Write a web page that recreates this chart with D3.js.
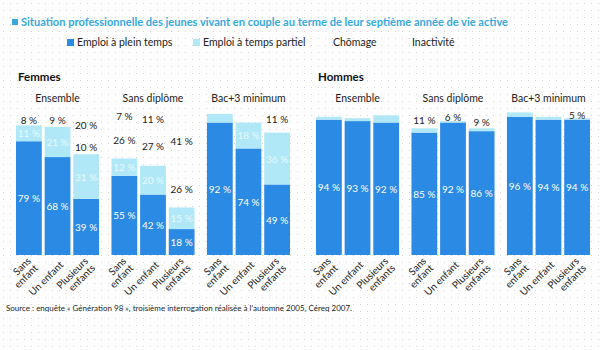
<!DOCTYPE html>
<html lang="fr">
<head>
<meta charset="UTF-8">
<title>Situation professionnelle des jeunes vivant en couple</title>
<script src="https://cdn.jsdelivr.net/npm/d3@7/dist/d3.min.js"></script>
<style>
  body { margin: 0; background: #fff; }
  svg { display: block; font-family: Lato, "Open Sans", sans-serif; }
</style>
</head>
<body>
<script>
// séries (en %), ordre : Ensemble x3, Sans diplôme x3, Bac+3 minimum x3
const femmesPlein      = [79, 68, 39, 55, 42, 18, 92, 74, 49];
const femmesPartiel    = [11, 21, 31, 12, 20, 15,  6, 18, 36];
const femmesChomage    = [ 8,  9, 10, 26, 27, 26,  1,  4,  4];
const femmesInactivite = [ 2,  2, 20,  7, 11, 41,  1,  4, 11];

const hommesPlein      = [94, 93, 92, 85, 92, 86, 96, 94, 94];
const hommesPartiel    = [ 2,  2,  5,  3,  1,  2,  3,  2,  1];
const hommesChomage    = [ 3,  4,  2, 11,  6,  9,  1,  3,  5];
const hommesInactivite = [ 1,  1,  1,  1,  1,  3,  0,  1,  0];

const sexes = ["Femmes", "Hommes"];
const groupes = ["Ensemble", "Sans diplôme", "Bac+3 minimum"];
const situations = [["Sans", "enfant"], ["Un enfant"], ["Plusieurs", "enfants"]];
const cles = ["Emploi à plein temps", "Emploi à temps partiel", "Chômage", "Inactivité"];

const width = 604, height = 350;
const fonce = "#2a8ae4", clair = "#b0e8f7", titreCouleur = "#36a9e1";

const svg = d3.select("body").append("svg")
    .attr("width", width)
    .attr("height", height);

// fond pointillé
const defs = svg.append("defs");
defs.append("pattern")
    .attr("id", "points")
    .attr("width", 7).attr("height", 7)
    .attr("patternUnits", "userSpaceOnUse")
  .append("rect")
    .attr("x", 3).attr("y", 3).attr("width", 1).attr("height", 1)
    .attr("fill", "#d4d4d4");
svg.append("rect").attr("width", width).attr("height", height).attr("fill", "url(#points)");

// titre
svg.append("rect").attr("x", 12).attr("y", 19).attr("width", 6).attr("height", 6).attr("fill", titreCouleur);
svg.append("text")
    .attr("x", 21).attr("y", 26)
    .attr("textLength", 487).attr("lengthAdjust", "spacingAndGlyphs")
    .style("font-size", "11px").style("font-weight", "bold")
    .attr("fill", titreCouleur)
    .text("Situation professionnelle des jeunes vivant en couple au terme de leur septième année de vie active");

// légende
const couleurs = d3.scaleOrdinal().domain(cles).range([fonce, clair, "none", "none"]);
const legX = [67, 193, 333, 412];
const leg = svg.append("g").selectAll("g").data(cles).join("g")
    .attr("transform", (d, i) => `translate(${legX[i]},40)`);
leg.filter(d => couleurs(d) !== "none").append("rect")
    .attr("y", -1).attr("width", 7).attr("height", 7).attr("fill", couleurs);
leg.append("text")
    .attr("x", (d, i) => i < 2 ? 10 : 0).attr("y", 6)
    .style("font-size", "10.5px").attr("fill", "#222")
    .text(d => d);

// échelles
const y = d3.scaleLinear().domain([0, 100]).range([255, 111]);
const xPanneau = d3.scaleBand().domain(sexes).range([0, 600]);
const xGroupe = d3.scaleBand().domain(groupes).range([16, 290]).paddingInner(0.13);
const xBarre = d3.scaleBand().domain(d3.range(3)).range([0, xGroupe.bandwidth()]).paddingInner(0.1);

const series = {
  Femmes: [femmesPlein, femmesPartiel, femmesChomage, femmesInactivite],
  Hommes: [hommesPlein, hommesPartiel, hommesChomage, hommesInactivite]
};

sexes.forEach(sexe => {
  const lignes = d3.range(9).map(i => {
    const r = { groupe: groupes[Math.floor(i / 3)], idx: i % 3 };
    cles.forEach((k, j) => r[k] = series[sexe][j][i]);
    return r;
  });
  const pile = d3.stack().keys(cles)(lignes);

  const p = svg.append("g").attr("transform", `translate(${xPanneau(sexe)},0)`);

  p.append("text")
      .attr("x", 18).attr("y", 81)
      .style("font-size", "11.5px").style("font-weight", "bold").attr("fill", "#111")
      .text(sexe);

  p.selectAll(".groupe").data(groupes).join("text")
      .attr("x", d => xGroupe(d) + xGroupe.bandwidth() / 2).attr("y", 102)
      .attr("text-anchor", "middle")
      .style("font-size", "10.5px").attr("fill", "#222")
      .text(d => d);

  const xPos = r => xGroupe(r.groupe) + xBarre(r.idx);

  const couche = p.selectAll(".couche").data(pile).join("g");
  couche.selectAll("rect").data(d => d).join("rect")
      .attr("x", d => xPos(d.data))
      .attr("y", d => y(d[1]))
      .attr("width", xBarre.bandwidth())
      .attr("height", d => y(d[0]) - y(d[1]))
      .attr("fill", function () { return couleurs(d3.select(this.parentNode).datum().key); });

  couche.each(function (s, j) {
    const seuil = j === 0 ? 1 : (j === 1 ? 10 : 5);
    d3.select(this).selectAll("text")
        .data(s.filter(d => d[1] - d[0] >= seuil))
        .join("text")
        .attr("x", d => xPos(d.data) + xBarre.bandwidth() / 2)
        .attr("y", d => (y(d[0]) + y(d[1])) / 2 + 4)
        .attr("text-anchor", "middle")
        .style("font-size", "10px")
        .attr("fill", j === 0 ? "#fff" : (j === 1 ? "#e8f9fd" : "#222"))
        .text(d => (d[1] - d[0]) + " %");
  });

  // étiquettes inclinées
  const lab = p.selectAll(".lab").data(d3.range(9)).join("text")
      .attr("transform", i => `translate(${xGroupe(groupes[Math.floor(i / 3)]) + xBarre(i % 3) + xBarre.bandwidth() / 2 + 4},263) rotate(-45)`)
      .attr("text-anchor", "end")
      .style("font-size", "10px").attr("fill", "#222");
  lab.selectAll("tspan").data(i => situations[i % 3].map((t, k, a) => ({ t, k, n: a.length })))
      .join("tspan")
      .attr("x", 0)
      .attr("dy", d => d.n === 1 ? "0.35em" : (d.k === 0 ? "-0.2em" : "1em"))
      .text(d => d.t);
});

// source
svg.append("text")
    .attr("x", 6).attr("y", 311)
    .style("font-size", "8px").attr("fill", "#222")
    .text("Source : enquête « Génération 98 », troisième interrogation réalisée à l'automne 2005, Céreq 2007.");
</script>
</body>
</html>
